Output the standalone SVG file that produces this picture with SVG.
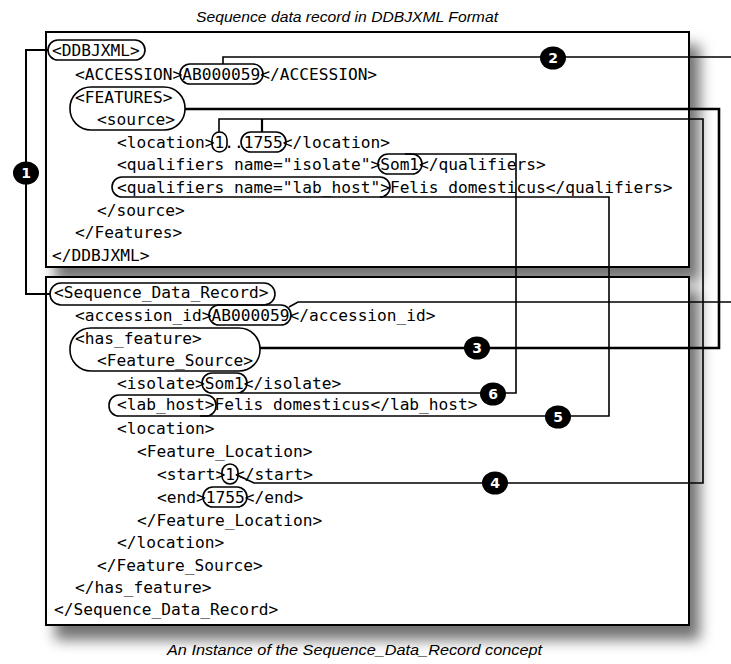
<svg xmlns="http://www.w3.org/2000/svg" width="731" height="664" viewBox="0 0 731 664">
<defs>
<filter id="shadow" x="-10%" y="-10%" width="130%" height="130%">
<feDropShadow dx="10" dy="14" stdDeviation="7" flood-color="#000" flood-opacity="0.55"/>
</filter>
</defs>
<style>
.box{fill:#fff;stroke:#000;stroke-width:2}
.code{font-family:"DejaVu Sans Mono","Liberation Mono",monospace;font-size:16.2px;fill:#000}
.hl{fill:none;stroke:#000;stroke-width:1.6}
.conn{fill:none;stroke:#000;stroke-width:1.6}
.num{fill:#000}
.numt{font-family:"DejaVu Sans","Liberation Sans",sans-serif;font-size:14px;fill:#fff;text-anchor:middle;font-weight:bold}
.cap{font-family:"Liberation Sans","Open Sans",sans-serif;font-style:italic;font-size:15px;fill:#000}
</style>
<rect width="731" height="664" fill="#fff"/>
<text class="cap" x="196" y="22" textLength="302" lengthAdjust="spacingAndGlyphs">Sequence data record in DDBJXML Format</text>
<text class="cap" x="167" y="655" textLength="375" lengthAdjust="spacingAndGlyphs">An Instance of the Sequence_Data_Record concept</text>

<g id="ddbjxml-record">
<rect class="box" x="46" y="32" width="643" height="235" filter="url(#shadow)"/>
<text class="code" x="52" y="56">&lt;DDBJXML&gt;</text>
<text class="code" x="75" y="80">&lt;ACCESSION&gt;AB000059&lt;/ACCESSION&gt;</text>
<text class="code" x="75" y="103">&lt;FEATURES&gt;</text>
<text class="code" x="97" y="125">&lt;source&gt;</text>
<text class="code" x="117" y="148">&lt;location&gt;1..1755&lt;/location&gt;</text>
<text class="code" x="117" y="170">&lt;qualifiers name="isolate"&gt;Som1&lt;/qualifiers&gt;</text>
<text class="code" x="117" y="193">&lt;qualifiers name="lab_host"&gt;Felis domesticus&lt;/qualifiers&gt;</text>
<text class="code" x="97" y="216">&lt;/source&gt;</text>
<text class="code" x="75" y="238">&lt;/Features&gt;</text>
<text class="code" x="52" y="261">&lt;/DDBJXML&gt;</text>
</g>

<g id="sequence-data-record">
<rect class="box" x="46" y="277" width="643" height="348" filter="url(#shadow)"/>
<text class="code" x="54" y="298">&lt;Sequence_Data_Record&gt;</text>
<text class="code" x="75" y="321">&lt;accession_id&gt;AB000059&lt;/accession_id&gt;</text>
<text class="code" x="75" y="344">&lt;has_feature&gt;</text>
<text class="code" x="97" y="366">&lt;Feature_Source&gt;</text>
<text class="code" x="117" y="389">&lt;isolate&gt;Som1&lt;/isolate&gt;</text>
<text class="code" x="117" y="410">&lt;lab_host&gt;Felis domesticus&lt;/lab_host&gt;</text>
<text class="code" x="117" y="434">&lt;location&gt;</text>
<text class="code" x="137" y="457">&lt;Feature_Location&gt;</text>
<text class="code" x="157" y="480">&lt;start&gt;1&lt;/start&gt;</text>
<text class="code" x="157" y="503">&lt;end&gt;1755&lt;/end&gt;</text>
<text class="code" x="137" y="526">&lt;/Feature_Location&gt;</text>
<text class="code" x="117" y="548">&lt;/location&gt;</text>
<text class="code" x="97" y="571">&lt;/Feature_Source&gt;</text>
<text class="code" x="75" y="593">&lt;/has_feature&gt;</text>
<text class="code" x="54" y="615">&lt;/Sequence_Data_Record&gt;</text>
</g>

<g id="highlights">
<rect class="hl" x="48" y="40" width="97" height="20" rx="10"/>
<rect class="hl" x="180" y="64" width="83" height="20" rx="10"/>
<rect class="hl" x="70" y="87" width="115" height="43" rx="21"/>
<rect class="hl" x="212" y="132" width="15" height="20" rx="7.5"/>
<rect class="hl" x="241" y="132" width="45" height="20" rx="10"/>
<rect class="hl" x="378" y="154" width="44" height="20" rx="10"/>
<rect class="hl" x="112" y="177" width="278" height="20" rx="10"/>
<rect class="hl" x="50" y="283" width="225" height="22" rx="11"/>
<rect class="hl" x="209" y="305" width="82" height="20" rx="10"/>
<rect class="hl" x="70" y="328" width="190" height="43" rx="21"/>
<rect class="hl" x="202" y="373" width="45" height="20" rx="10"/>
<rect class="hl" x="109" y="395" width="107" height="21" rx="10"/>
<rect class="hl" x="222" y="464" width="16" height="20" rx="8"/>
<rect class="hl" x="203" y="487" width="44" height="20" rx="10"/>
</g>

<g id="connectors">
<path class="conn" style="stroke-width:2" d="M48,50 H26 V294 H50"/>
<path class="conn" d="M223,64 V57 H731"/>
<path class="conn" d="M289,307 L298,302 H731"/>
<path class="conn" style="stroke-width:2.6" d="M185,109 H719 V348 H260"/>
<path class="conn" d="M219,132 V119 H703 V483 H254 L237,475"/>
<path class="conn" style="stroke-width:2.2" d="M262,132 V119"/>
<path class="conn" d="M380,197 H609 V416 H200"/>
<path class="conn" d="M405,154 H516 V393 H240"/>
</g>

<g id="numbers">
<g id="n1"><ellipse class="num" cx="26" cy="173" rx="13" ry="11.5"/><text class="numt" x="26" y="178">1</text></g>
<g id="n2"><ellipse class="num" cx="553" cy="58" rx="13" ry="11.5"/><text class="numt" x="553" y="63">2</text></g>
<g id="n3"><ellipse class="num" cx="477" cy="348" rx="13" ry="11.5"/><text class="numt" x="477" y="353">3</text></g>
<g id="n4"><ellipse class="num" cx="495" cy="483" rx="13" ry="11.5"/><text class="numt" x="495" y="488">4</text></g>
<g id="n5"><ellipse class="num" cx="558" cy="417" rx="13" ry="11.5"/><text class="numt" x="558" y="422">5</text></g>
<g id="n6"><ellipse class="num" cx="493" cy="394" rx="13" ry="11.5"/><text class="numt" x="493" y="399">6</text></g>
</g>
</svg>
